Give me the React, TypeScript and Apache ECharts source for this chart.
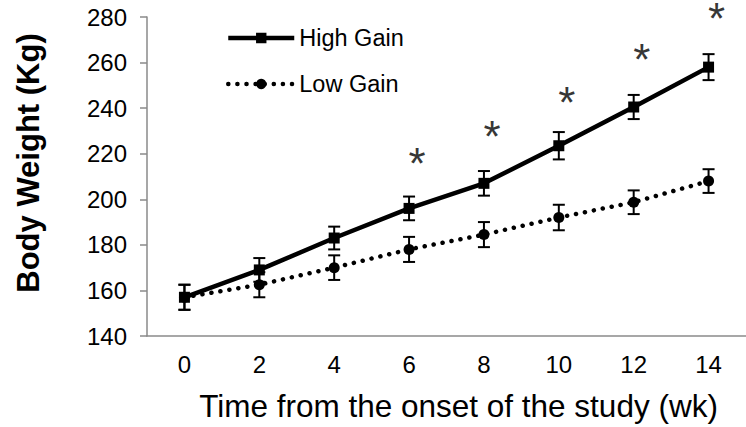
import React, { useEffect, useRef } from "react";
import * as echarts from "echarts";

const weeks = ["0", "2", "4", "6", "8", "10", "12", "14"];
const highGain = [157, 169, 183, 196, 207, 223.5, 240.5, 258];
const highErr = [5.5, 5.2, 5, 5.2, 5.4, 6, 5.3, 5.7];
const lowGain = [157, 162.5, 170, 178, 184.5, 192, 198.7, 208];
const lowErr = [5.5, 5.5, 5.4, 5.5, 5.5, 5.6, 5.2, 5.2];
const sigWeeks = ["6", "8", "10", "12", "14"];
const sigMarkY = [219, 231, 246, 265, 283];
const yTicks = { min: 140, max: 280, interval: 20 };

const FONT = "'Liberation Sans', Arial, sans-serif";
const AXIS_GRAY = "#8a8a8a";

function errorBarSeries(values: number[], errs: number[]) {
  return {
    type: "custom",
    silent: true,
    z: 5,
    data: values.map((v, i) => [i, v, errs[i]]),
    renderItem: (params: any, api: any) => {
      const i = api.value(0);
      const v = api.value(1);
      const e = api.value(2);
      const top = api.coord([i, v + e]);
      const bot = api.coord([i, v - e]);
      const hw = 6;
      const style = { stroke: "#000", lineWidth: 2 };
      return {
        type: "group",
        children: [
          { type: "line", shape: { x1: top[0], y1: top[1], x2: bot[0], y2: bot[1] }, style },
          { type: "line", shape: { x1: top[0] - hw, y1: top[1], x2: top[0] + hw, y2: top[1] }, style },
          { type: "line", shape: { x1: bot[0] - hw, y1: bot[1], x2: bot[0] + hw, y2: bot[1] }, style },
        ],
      };
    },
  };
}

export default function App() {
  const ref = useRef<HTMLDivElement>(null);
  useEffect(() => {
    if (!ref.current) return;
    const chart = echarts.init(ref.current, undefined, { renderer: "svg" });
    chart.setOption({
      animation: false,
      backgroundColor: "#ffffff",
      textStyle: { fontFamily: FONT },
      grid: { left: 147, top: 17, height: 325, width: 608, containLabel: false },
      legend: {
        data: ["High Gain", "Low Gain"],
        orient: "vertical",
        left: 226,
        top: 26,
        padding: 0,
        itemWidth: 66,
        itemHeight: 13,
        itemGap: 22,
        lineStyle: { width: 4.5 },
        textStyle: { fontSize: 23.5, color: "#000", fontFamily: FONT },
      },
      xAxis: {
        type: "category",
        data: weeks,
        boundaryGap: true,
        name: "Time from the onset of the study (wk)",
        nameLocation: "middle",
        nameGap: 54,
        nameTextStyle: { fontSize: 31.5, color: "#000", fontFamily: FONT, padding: [0, 0, 0, 24] },
        axisLine: { lineStyle: { color: AXIS_GRAY, width: 1.5 } },
        axisTick: { alignWithLabel: true, length: 6, lineStyle: { color: AXIS_GRAY, width: 1.5 } },
        axisLabel: { fontSize: 24, color: "#000", margin: 16, fontFamily: FONT },
        splitLine: { show: false },
      },
      yAxis: {
        type: "value",
        min: yTicks.min,
        max: yTicks.max,
        interval: yTicks.interval,
        axisLine: { show: true, lineStyle: { color: AXIS_GRAY, width: 1.5 } },
        axisTick: { show: true, length: 7, lineStyle: { color: AXIS_GRAY, width: 1.5 } },
        axisLabel: { fontSize: 24, color: "#000", margin: 20, fontFamily: FONT },
        splitLine: { show: false },
      },
      graphic: [
        {
          type: "text",
          x: 28,
          y: 163,
          rotation: Math.PI / 2,
          style: {
            text: "Body Weight (Kg)",
            font: `bold 31px ${FONT}`,
            fill: "#000",
            align: "center",
            verticalAlign: "middle",
          },
        },
      ],
      series: [
        {
          name: "Low Gain",
          type: "line",
          data: lowGain,
          symbol: "circle",
          symbolSize: 11,
          itemStyle: { color: "#000" },
          lineStyle: { color: "#000", width: 4.5, type: [0.1, 9], cap: "round" },
          z: 3,
        },
        {
          name: "High Gain",
          type: "line",
          data: highGain,
          symbol: "rect",
          symbolSize: 11,
          itemStyle: { color: "#000" },
          lineStyle: { color: "#000", width: 4.5 },
          z: 4,
        },
        errorBarSeries(highGain, highErr),
        errorBarSeries(lowGain, lowErr),
        {
          type: "scatter",
          silent: true,
          clip: false,
          data: sigWeeks.map((w, i) => [weeks.indexOf(w), sigMarkY[i]]),
          symbolSize: 2,
          itemStyle: { color: "rgba(0,0,0,0)" },
          label: {
            show: true,
            position: "inside",
            formatter: "*",
            fontSize: 44,
            color: "#000",
            textBorderWidth: 0,
            fontFamily: FONT,
            offset: [8, 8],
          },
          z: 6,
        },
      ],
    });
    return () => chart.dispose();
  }, []);
  return <div ref={ref} style={{ width: 746, height: 427, position: "absolute", left: 0, top: 0 }} />;
}
